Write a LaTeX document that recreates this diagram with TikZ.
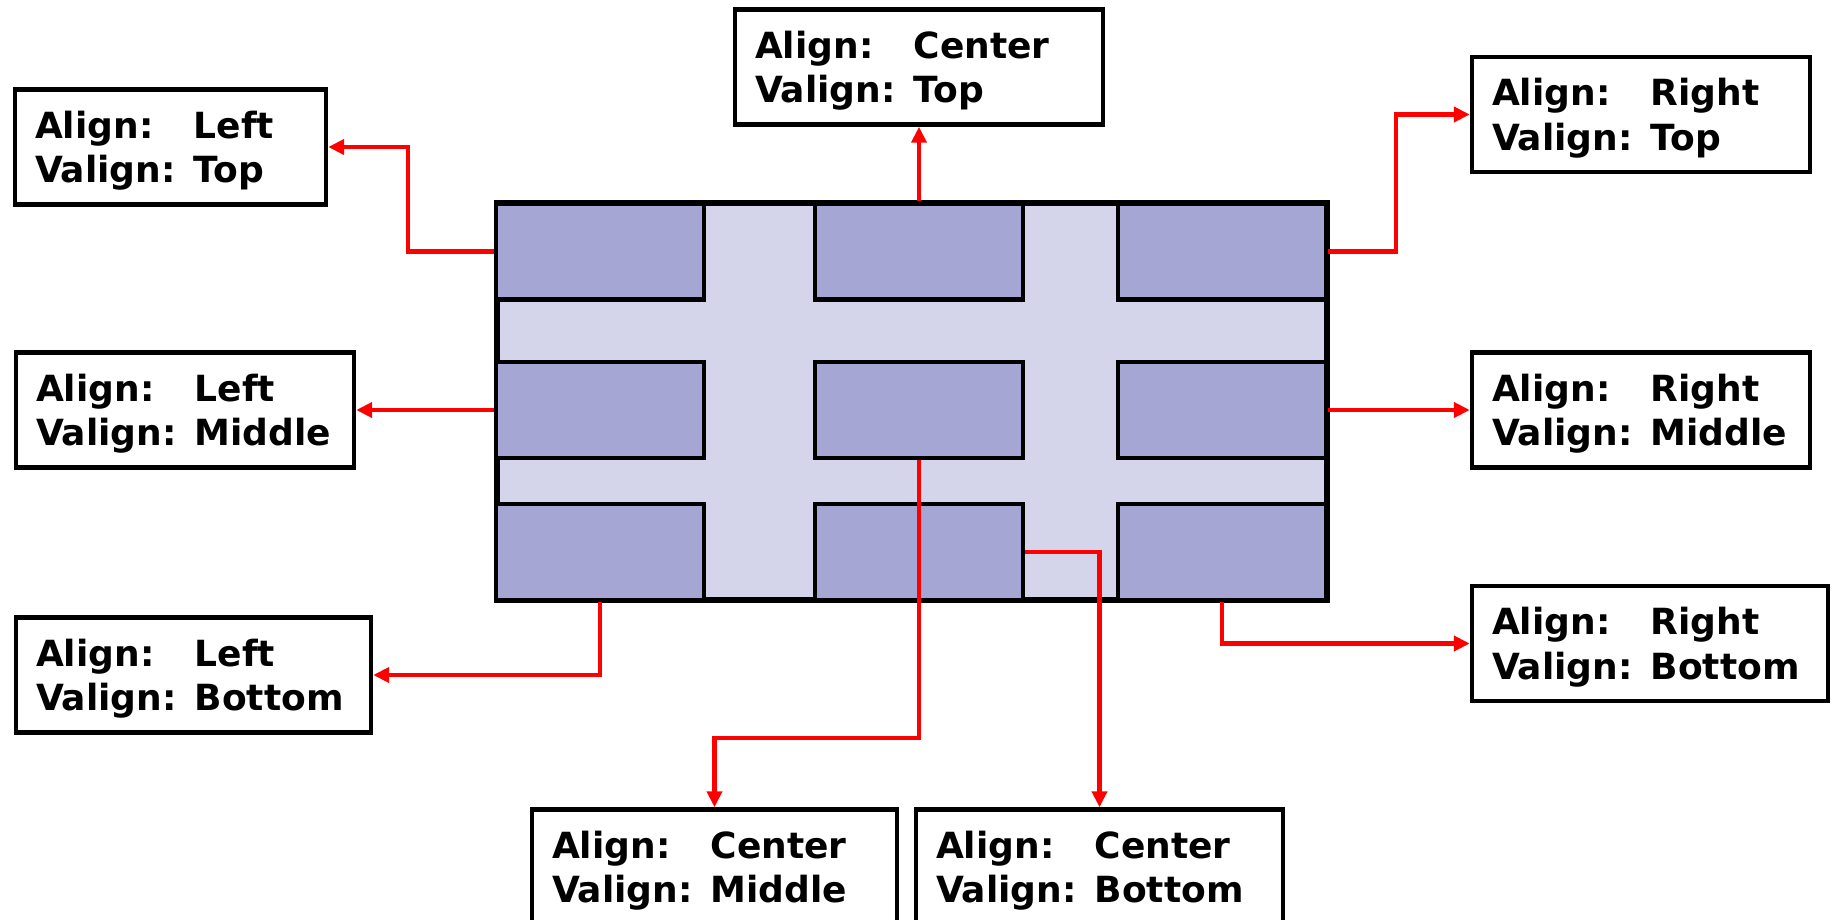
\documentclass[tikz,border=0pt]{standalone}
\usepackage{fontspec}
\setmainfont{DejaVu Sans}
\usepackage{xcolor}
\usepackage{tikz}
\usetikzlibrary{arrows.meta}
\definecolor{cellblue}{RGB}{166,166,212}
\definecolor{gridblue}{RGB}{212,212,234}
\definecolor{linkred}{RGB}{255,0,0}
\newcommand{\lbltext}[2]{\raisebox{-0.09cm}[\height][\depth]{\begin{tabular}{@{}l@{ }l@{}}Align: & #1\\Valign: & #2\end{tabular}}}
\tikzset{
  lbl/.style={draw, line width=0.09cm, inner xsep=0.4cm, inner ysep=0pt, text width=#1, align=left, minimum height=2.3cm, font=\fontsize{20.5}{25.6}\selectfont\bfseries},
  cell/.style={draw, line width=0.09cm, fill=cellblue, minimum width=4.16cm, minimum height=1.92cm, inner sep=0pt},
  panel/.style={draw, line width=0.12cm, fill=gridblue, inner sep=0pt},
  link/.style={draw=linkred, line width=0.085cm, -{Triangle[length=0.32cm,width=0.3cm]}}
}

\begin{document}
\begin{tikzpicture}[x=0.02cm, y=-0.02cm]
\clip (0,0) rectangle (1837,920);
\node[panel, minimum width=16.6cm, minimum height=7.94cm] (panel) at (912,401.5) {};
\node[cell] (cellTL) at (600,251.5) {};
\node[cell] (cellTC) at (919,251.5) {};
\node[cell] (cellTR) at (1222,251.5) {};
\node[cell] (cellML) at (600,410) {};
\node[cell] (cellMC) at (919,410) {};
\node[cell] (cellMR) at (1222,410) {};
\node[cell] (cellBL) at (600,552) {};
\node[cell] (cellBC) at (919,552) {};
\node[cell] (cellBR) at (1222,552) {};

\node[lbl=5.42cm] (boxTL) at (170.5,147) {\lbltext{Left}{Top}};
\node[lbl=5.96cm] (boxML) at (185,410) {\lbltext{Left}{Middle}};
\node[lbl=6.30cm] (boxBL) at (193.5,675) {\lbltext{Left}{Bottom}};
\node[lbl=6.56cm] (boxTC) at (919,67) {\lbltext{Center}{Top}};
\node[lbl=5.96cm] (boxTR) at (1641,114.5) {\lbltext{Right}{Top}};
\node[lbl=5.96cm] (boxMR) at (1641,410) {\lbltext{Right}{Middle}};
\node[lbl=6.32cm] (boxBR) at (1650,643.5) {\lbltext{Right}{Bottom}};
\node[lbl=6.50cm] (boxMC) at (714.5,867) {\lbltext{Center}{Middle}};
\node[lbl=6.54cm] (boxBC) at (1099.5,867) {\lbltext{Center}{Bottom}};

\draw[link] (cellTL.west) -- ++(-86,0) |- (boxTL.east);
\draw[link] (cellML.west) -- (boxML.east);
\draw[link] (cellBL.south) |- (boxBL.east);
\draw[link] (cellTC.north) -- (boxTC.south);
\draw[link] (cellTR.east) -- ++(68,0) |- (boxTR.west);
\draw[link] (cellMR.east) -- (boxMR.west);
\draw[link] (cellBR.south) |- (boxBR.west);
\draw[link] (cellMC.south) -- ++(0,278) -| (boxMC.north);
\draw[link] (cellBC.east) -| (boxBC.north);
\end{tikzpicture}
\end{document}
